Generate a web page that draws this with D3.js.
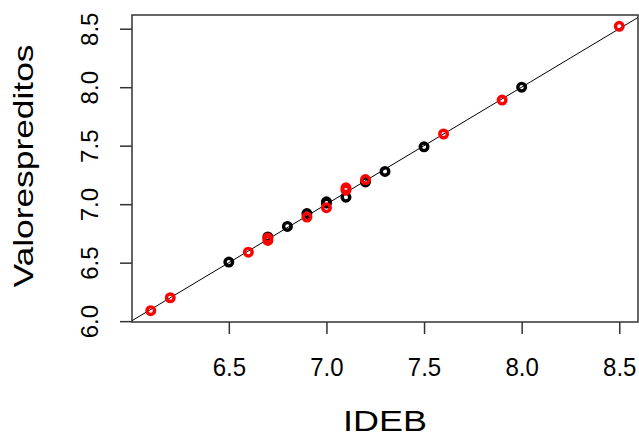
<!DOCTYPE html>
<html>
<head>
<meta charset="utf-8">
<script src="https://cdn.jsdelivr.net/npm/d3@7"></script>
<style>
  html, body { margin: 0; padding: 0; background: #fff; }
  svg { display: block; font-family: 'Liberation Sans', Arial, sans-serif; }
</style>
</head>
<body>
<svg id="chart" width="639" height="437"></svg>
<script>
// IDEB observed vs predicted values, two groups
const blackIdeb = [6.5, 6.7, 6.8, 6.9, 7.0, 7.0, 7.1, 7.2, 7.3, 7.5, 8.0];
const blackPred = [6.505, 6.72, 6.81, 6.92, 7.01, 7.02, 7.06, 7.19, 7.28, 7.49, 8.0];
const redIdeb = [6.1, 6.2, 6.6, 6.7, 6.7, 6.9, 7.0, 7.1, 7.1, 7.2, 7.6, 7.9, 8.5];
const redPred = [6.09, 6.2, 6.59, 6.69, 6.71, 6.89, 6.97, 7.12, 7.14, 7.21, 7.6, 7.89, 8.52];
const xTicks = [6.5, 7.0, 7.5, 8.0, 8.5];
const yTicks = [6.0, 6.5, 7.0, 7.5, 8.0, 8.5];

const margin = { left: 132, right: 1, top: 15, bottom: 115 };
const width = 639, height = 437;

const svg = d3.select('#chart');

// R-style 4% padding around the data range
function padded(vals) {
  const [lo, hi] = d3.extent(vals);
  const p = (hi - lo) * 0.04;
  return [lo - p, hi + p];
}

const x = d3.scaleLinear()
  .domain(padded(blackIdeb.concat(redIdeb)))
  .range([margin.left, width - margin.right]);

const y = d3.scaleLinear()
  .domain(padded(blackPred.concat(redPred)))
  .range([height - margin.bottom, margin.top]);

const fmt = d3.format('.1f');

svg.append('clipPath').attr('id', 'plotclip')
  .append('rect')
  .attr('x', margin.left).attr('y', margin.top)
  .attr('width', width - margin.left - margin.right)
  .attr('height', height - margin.top - margin.bottom);

// x axis
const xAxis = svg.append('g')
  .attr('transform', `translate(0,${height - margin.bottom})`)
  .call(d3.axisBottom(x).tickValues(xTicks).tickFormat(fmt).tickSize(12));
xAxis.select('.domain').remove();
xAxis.selectAll('line').attr('stroke', '#333').attr('stroke-width', 1.5);
xAxis.selectAll('text')
  .attr('font-size', 24).attr('fill', '#000')
  .attr('dy', null).attr('y', 54)
  .attr('transform', 'translate(0,54) scale(1,1.06) translate(0,-54)')
  .attr('font-family', "'Liberation Sans', Arial, sans-serif");

// y axis
const yAxis = svg.append('g')
  .attr('transform', `translate(${margin.left},0)`)
  .call(d3.axisLeft(y).tickValues(yTicks).tickFormat(fmt).tickSize(12));
yAxis.select('.domain').remove();
yAxis.selectAll('line').attr('stroke', '#333').attr('stroke-width', 1.5);
yAxis.selectAll('text')
  .attr('font-size', 24).attr('fill', '#000')
  .attr('x', null).attr('dy', null)
  .attr('text-anchor', 'middle')
  .attr('transform', 'translate(-34,0) rotate(-90)')
  .attr('font-family', "'Liberation Sans', Arial, sans-serif");

// identity line y = x
const xd = x.domain();
svg.append('line')
  .attr('clip-path', 'url(#plotclip)')
  .attr('x1', x(xd[0])).attr('y1', y(xd[0]))
  .attr('x2', x(xd[1])).attr('y2', y(xd[1]))
  .attr('stroke', '#000').attr('stroke-width', 1);

// points
function drawPoints(xs, ys, color) {
  svg.append('g').selectAll('circle')
    .data(xs.map((v, i) => [v, ys[i]]))
    .join('circle')
    .attr('cx', d => x(d[0]))
    .attr('cy', d => y(d[1]))
    .attr('r', 3.8)
    .attr('fill', 'none')
    .attr('stroke', color)
    .attr('stroke-width', 3.4);
}
drawPoints(blackIdeb, blackPred, '#000');
drawPoints(redIdeb, redPred, '#ff0000');

// plot box
svg.append('rect')
  .attr('x', margin.left).attr('y', margin.top)
  .attr('width', width - margin.left - margin.right)
  .attr('height', height - margin.top - margin.bottom)
  .attr('fill', 'none').attr('stroke', '#333').attr('stroke-width', 1.5);

// axis titles
svg.append('text')
  .attr('x', 385).attr('y', 431)
  .attr('text-anchor', 'middle')
  .attr('font-size', 30)
  .attr('textLength', 84).attr('lengthAdjust', 'spacingAndGlyphs')
  .attr('fill', '#000')
  .text('IDEB');

svg.append('text')
  .attr('transform', 'translate(33,166) rotate(-90)')
  .attr('text-anchor', 'middle')
  .attr('font-size', 28)
  .attr('textLength', 243).attr('lengthAdjust', 'spacingAndGlyphs')
  .attr('fill', '#000')
  .text('Valorespreditos');
</script>
</body>
</html>
